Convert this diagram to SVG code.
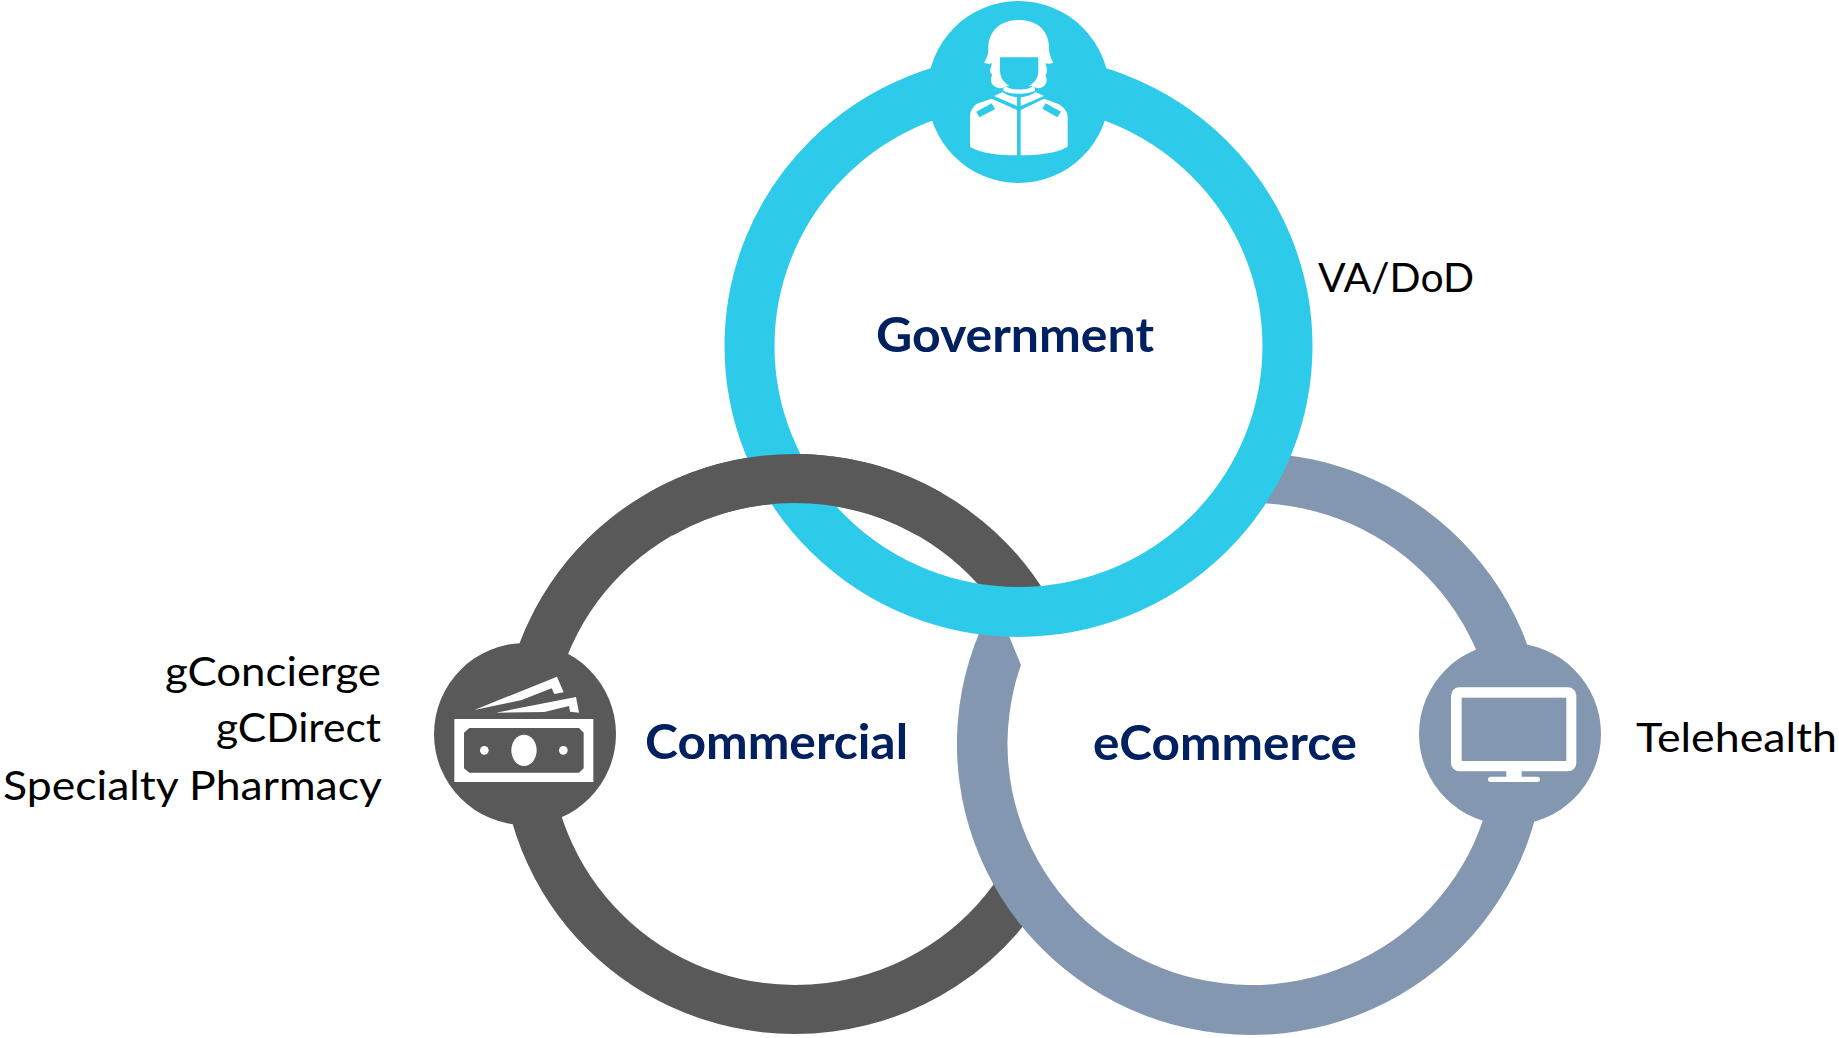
<svg xmlns="http://www.w3.org/2000/svg" width="1839" height="1038" viewBox="0 0 1839 1038">
<style>
.ring{fill:none}
.cy{fill:#2dcae9}.dk{fill:#595959}.bl{fill:#8497b0}.wh{fill:#fff}
.head{font-family:"Lato","Carlito","Liberation Sans",sans-serif;font-weight:700;fill:#002060;font-size:48px}
.lab{font-family:"Lato","Carlito","Liberation Sans",sans-serif;font-weight:400;fill:#000;font-size:40px}
</style>
<rect width="1839" height="1038" fill="#fff"/>
<g id="connectors">
<path id="ring-commercial" class="ring" stroke="#595959" stroke-width="49" d="M1020.4,888.6 A269,265.5 0 1 1 1027.8,611.25"/>
<path id="ring-ecommerce" class="bl" d="M1251,453 A294,291 0 1 1 980,631 L1000,625 L1009,636 L1021,665 A244,241 0 1 0 1251,503 Z"/>
<ellipse id="ring-government" class="ring" stroke="#2dcae9" stroke-width="50" cx="1018.5" cy="346" rx="269" ry="266"/>
<path id="ring-commercial-over" class="ring" stroke="#595959" stroke-width="49" d="M660.5,514.1 A269,265.5 0 0 1 929.5,514.1"/>
</g>
<g id="node-government">
<circle class="cy" cx="1018.5" cy="92" r="91"/>
<g transform="translate(900,0) scale(.33333)">
<path class="wh" d="M265,150 C262,90 305,60 356,60 C410,60 450,90 447,150 C448,165 455,178 460,188 C452,192 442,192 436,190 C440,205 446,215 436,225 C444,240 440,258 420,264 C412,266 404,262 398,258 H318 C312,262 304,266 296,264 C272,258 268,240 277,225 C266,215 272,205 276,190 C270,192 260,192 252,188 C258,178 265,165 265,150 Z"/>
<path class="cy" d="M303,172 H412 C414,172 415,174 415,176 V212 C415,245 385,265 357,265 C330,265 300,245 300,212 V176 C300,174 301,172 303,172 Z"/>
<path class="wh" d="M318,258 C330,272 385,272 398,258 L405,264 V272 C385,284 330,284 310,272 V264 Z"/>
<path class="wh" d="M282,288 L308,276 C322,286 338,290 351,292 V318 Z"/>
<path class="wh" d="M432,288 L407,276 C392,286 376,290 362,292 V318 Z"/>
<path class="wh" d="M210,350 C210,335 220,315 235,310 L275,296 L351,330 V466 C300,466 240,460 210,440 Z"/>
<path class="wh" d="M362,330 L432,296 L475,312 C490,320 503,335 503,350 V440 C470,460 410,466 362,466 Z"/>
<path class="cy" d="M229,335 L275,310 L285,328 L238,352 Z"/>
<path class="cy" d="M427,326 L437,310 L483,335 L472,352 Z"/>
</g>
<text class="head" x="876" y="352" textLength="278" lengthAdjust="spacingAndGlyphs">Government</text>
<text class="lab" x="1318" y="292" textLength="156" lengthAdjust="spacingAndGlyphs">VA/DoD</text>
</g>
<g id="node-commercial">
<circle class="dk" cx="525" cy="734" r="91"/>
<g transform="translate(420,630) scale(.33333)">
<rect class="wh" x="103" y="267" width="417" height="189"/>
<path class="dk" d="M148,294 H477 L491,308 V415 L477,428 H148 L132,415 V308 Z"/>
<ellipse class="wh" cx="312" cy="361" rx="38" ry="47"/>
<circle class="wh" cx="193" cy="361" r="13"/>
<circle class="wh" cx="430" cy="361" r="13"/>
<path class="wh" d="M163,240 L411,140 L431,187 L403,192 L395,175 L305,210 Z"/>
<path class="wh" d="M228,248 L468,201 L477,248 L450,245 L447,228 L373,246 Z"/>
</g>
<text class="head" x="645" y="759" textLength="263" lengthAdjust="spacingAndGlyphs">Commercial</text>
<text class="lab" x="165" y="686" textLength="216" lengthAdjust="spacingAndGlyphs">gConcierge</text>
<text class="lab" x="216" y="742" textLength="165" lengthAdjust="spacingAndGlyphs">gCDirect</text>
<text class="lab" x="3" y="800" textLength="379" lengthAdjust="spacingAndGlyphs">Specialty Pharmacy</text>
</g>
<g id="node-ecommerce">
<circle class="bl" cx="1510" cy="734" r="91"/>
<g transform="translate(1410,630) scale(.33333)">
<rect class="wh" x="123" y="172" width="376" height="252" rx="25"/>
<rect class="bl" x="155" y="203" width="314" height="190"/>
<rect class="wh" x="289" y="420" width="46" height="24"/>
<rect class="wh" x="234" y="440" width="156" height="16" rx="8"/>
</g>
<text class="head" x="1093" y="760" textLength="264" lengthAdjust="spacingAndGlyphs">eCommerce</text>
<text class="lab" x="1636" y="752" textLength="201" lengthAdjust="spacingAndGlyphs">Telehealth</text>
</g>
</svg>
